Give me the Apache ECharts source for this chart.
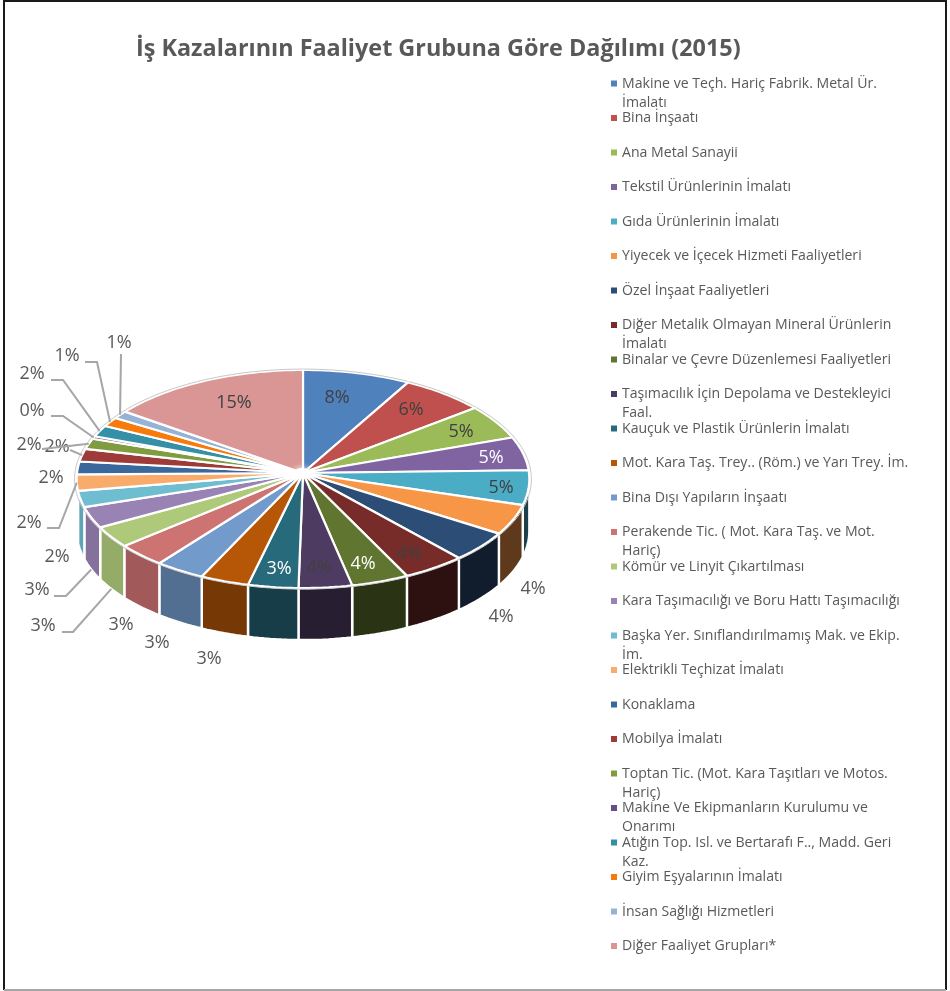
<!DOCTYPE html>
<html><head><meta charset="utf-8">
<style>html,body{margin:0;padding:0;background:#fff}#c{width:950px;height:991px}</style>
<script src="https://cdn.jsdelivr.net/npm/echarts@6/dist/echarts.min.js"></script>
</head><body><div id="c"></div>
<script>
const titleText = 'İş Kazalarının Faaliyet Grubuna Göre Dağılımı (2015)';
const categories = [
 'Makine ve Teçh. Hariç Fabrik. Metal Ür.\nİmalatı','Bina İnşaatı','Ana Metal Sanayii','Tekstil Ürünlerinin İmalatı',
 'Gıda Ürünlerinin İmalatı','Yiyecek ve İçecek Hizmeti Faaliyetleri','Özel İnşaat Faaliyetleri',
 'Diğer Metalik Olmayan Mineral Ürünlerin\nİmalatı','Binalar ve Çevre Düzenlemesi Faaliyetleri',
 'Taşımacılık İçin Depolama ve Destekleyici\nFaal.','Kauçuk ve Plastik Ürünlerin İmalatı',
 'Mot. Kara Taş. Trey.. (Röm.) ve Yarı Trey. İm.','Bina Dışı Yapıların İnşaatı',
 'Perakende Tic. ( Mot. Kara Taş. ve Mot.\nHariç)','Kömür ve Linyit Çıkartılması',
 'Kara Taşımacılığı ve Boru Hattı Taşımacılığı','Başka Yer. Sınıflandırılmamış Mak. ve Ekip.\nİm.',
 'Elektrikli Teçhizat İmalatı','Konaklama','Mobilya İmalatı','Toptan Tic. (Mot. Kara Taşıtları ve Motos.\nHariç)',
 'Makine Ve Ekipmanların Kurulumu ve\nOnarımı','Atığın Top. Isl. ve Bertarafı F.., Madd. Geri\nKaz.',
 'Giyim Eşyalarının İmalatı','İnsan Sağlığı Hizmetleri','Diğer Faaliyet Grupları*'];
const values = [8.1,6.3,5.2,5.0,5.1,4.4,4.4,4.3,3.9,3.6,3.4,3.3,3.4,3.4,3.1,3.1,2.4,2.4,1.9,1.9,1.6,0.4,1.7,1.4,1.2,15.1];
const colors = ['#4F81BD','#C0504D','#9BBB59','#8064A2','#4BACC6','#F79646','#2C4D75','#772C2A','#5F7530','#4D3B62','#276A7C','#B65708','#729ACA','#CD7371','#AFC97A','#9983B5','#6FBDD1','#F9AB6B','#3A679C','#9E3B38','#7F9C40','#664F83','#358FA7','#F67B0A','#95B3D7','#D99694'];

// layout (not data)
const C = {x:303, y:473, rx:226, ry:108.7, k:0.055, depth:52};
const L = {x:611, top:73.5, step:34.5, lineH:20, font:14.1};
const labelAt = [[337,398],[411,410],[461,432],[491,458],[501,488],[533,589],[501,617],[409,554],[363,564],[319,568],[279,569],[209,659],[157,643],[121,625],[43,626],[37,590],[57,557],[29,523],[51,478],[57,447],[29,445],[32,411],[32,374],[67,356],[119,343],[234,403]];
const whiteLabels = [3,8,10];
const insideLabels = [0,1,2,3,4,7,8,9,10,25];
const leaders = [
 {i:14,from:[62,632],elbow:[73,632],depth:1},{i:15,from:[54,596],elbow:[66,596],depth:1},
 {i:17,from:[47,528],elbow:[59,528],depth:0},{i:19,from:[70,450],depth:0},{i:20,from:[42,449],depth:0},
 {i:21,from:[51,416],elbow:[63,416],depth:0},{i:22,from:[51,380],elbow:[63,380],depth:0},
 {i:23,from:[85,362],elbow:[97,362],depth:0},{i:24,from:[121,354],depth:0}];

const total = values.reduce((a,b)=>a+b,0);
const angle = []; { let s=0; values.forEach(v=>{angle.push([s/total*360,(s+v)/total*360]); s+=v;}); }
function proj(t,r,d){ const a=t*Math.PI/180, x=r*Math.sin(a), y=-r*Math.cos(a), w=1-C.k*y;
  return [C.x+C.rx*x/w, C.y+C.ry*y/w+(d||0)*C.depth]; }
function arc(a,b,r,d){ const n=Math.max(2,Math.ceil((b-a)/1.5)), p=[]; for(let i=0;i<=n;i++) p.push(proj(a+(b-a)*i/n,r,d)); return p; }
function shade(hex,f){ const n=parseInt(hex.slice(1),16); return 'rgb('+[(n>>16)&255,(n>>8)&255,n&255].map(c=>Math.round(c*f)).join(',')+')'; }
const dataSet = values.map((v,i)=>({name:categories[i],value:v}));

function renderSide(p){ const i=p.dataIndex; const a=Math.max(angle[i][0],93.2), b=Math.min(angle[i][1],266.8);
  if(b<=a) return {type:'group',children:[]};
  const m=(a+b)/2, f=Math.min(.86,Math.max(.38,.38+(m-150)*.0055));
  const top=arc(a,b,1,0), bot=arc(a,b,1,1).reverse();
  return {type:'polygon',shape:{points:top.concat(bot)},style:{fill:shade(colors[i],f),stroke:'#fff',lineWidth:2.4,lineJoin:'bevel'}}; }
function renderTop(p){ const i=p.dataIndex;
  return {type:'group',children:[
    {type:'polygon',shape:{points:[[C.x,C.y]].concat(arc(angle[i][0],angle[i][1],1,0))},style:{fill:colors[i],stroke:'#fff',lineWidth:2.2,lineJoin:'bevel'}},
    {type:'polyline',shape:{points:arc(angle[i][0],angle[i][1],1.009,0)},style:{fill:null,stroke:'#C8C8C8',lineWidth:1}}]}; }
function renderLabel(p){ const i=p.dataIndex, inside=insideLabels.includes(i);
  const children=[{type:'text',style:{text:Math.round(values[i]/total*100)+'%',x:labelAt[i][0],y:labelAt[i][1],align:'center',verticalAlign:'middle',
    font:'18px "Open Sans"',fill:whiteLabels.includes(i)?'#fff':(inside?'#404040':'#595959')}}];
  const l=leaders.find(o=>o.i===i);
  if(l){ const pts=[l.from]; if(l.elbow) pts.push(l.elbow); pts.push(proj((angle[i][0]+angle[i][1])/2,1,l.depth));
    children.unshift({type:'polyline',shape:{points:pts},style:{fill:null,stroke:'#A6A6A6',lineWidth:2}}); }
  if(i===values.length-1) children.push({type:'ellipse',shape:{cx:C.x-1,cy:C.y,rx:8,ry:5},style:{fill:'#fff',shadowColor:'#fff',shadowBlur:6}});
  return {type:'group',children}; }

const secondLines = categories.map((c,i)=>({t:c.split('\n')[1],i})).filter(o=>o.t).map(o=>({type:'text',silent:true,
  style:{text:o.t,x:L.x+11,y:L.top+L.lineH/2+L.step*o.i+19,verticalAlign:'middle',font:L.font+'px "Open Sans"',fill:'#595959'}}));

const chart = echarts.init(document.getElementById('c'),null,{renderer:'canvas'});
chart.setOption({
 animation:false, backgroundColor:'#fff',
 title:{text:titleText,left:136,top:38,padding:0,textStyle:{fontFamily:'"Open Sans"',fontSize:23.4,fontWeight:'bold',color:'#595959'}},
 legend:{orient:'vertical',left:L.x,top:L.top,padding:0,itemGap:L.step-L.lineH,itemWidth:6,itemHeight:6,icon:'rect',data:categories,selectedMode:false,
   formatter:n=>n.split('\n')[0],
   textStyle:{fontFamily:'"Open Sans"',fontSize:L.font,color:'#595959',lineHeight:L.lineH}},
 graphic:[...secondLines,
  {type:'polyline',silent:true,z:100,shape:{points:[[4,990],[4,1],[946,1],[946,990]]},style:{fill:null,stroke:'#1a1a1a',lineWidth:2}},
  {type:'line',silent:true,z:100,shape:{x1:4,y1:990,x2:946,y2:990},style:{stroke:'#a6a6a6',lineWidth:2}}],
 series:[
  {type:'pie',radius:[0,0],center:[C.x,C.y],silent:true,label:{show:false},labelLine:{show:false},data:dataSet.map((d,i)=>({...d,itemStyle:{color:colors[i]}}))},
  {type:'custom',name:'side',coordinateSystem:'none',silent:true,z:2,renderItem:renderSide,data:values},
  {type:'custom',name:'top',coordinateSystem:'none',silent:true,z:3,renderItem:renderTop,data:values},
  {type:'custom',name:'label',coordinateSystem:'none',silent:true,z:4,renderItem:renderLabel,data:values}
 ]});
</script></body></html>
